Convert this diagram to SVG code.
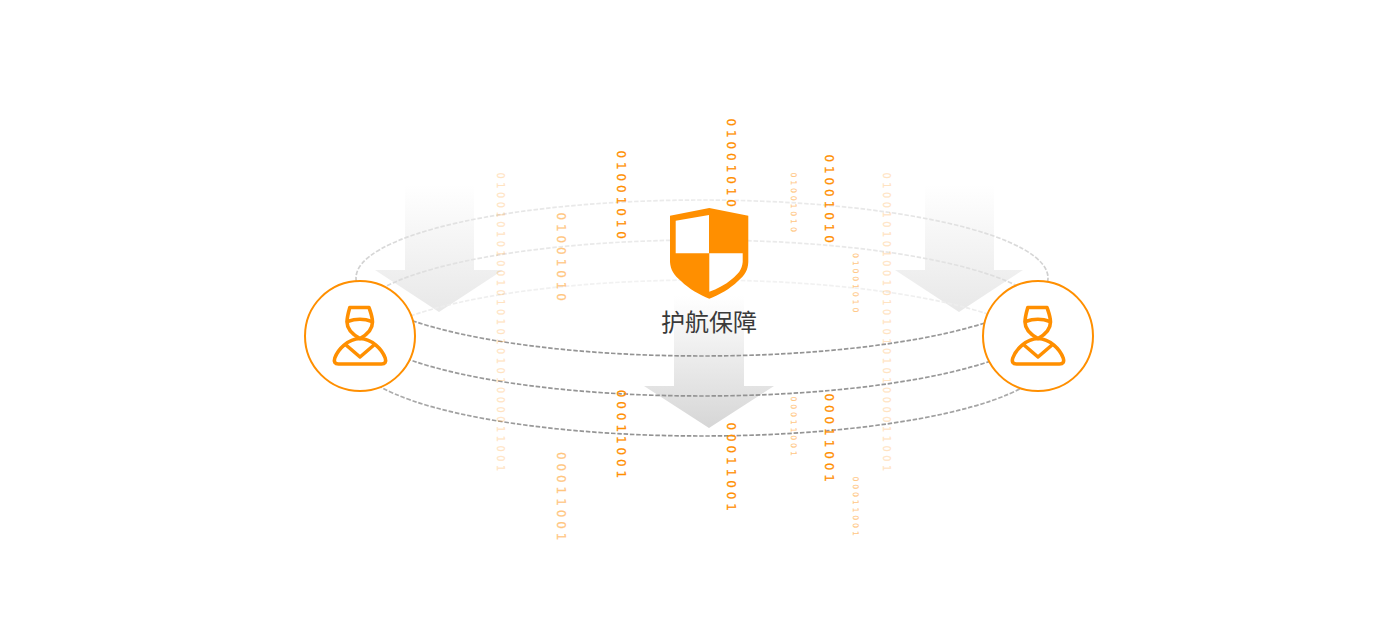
<svg xmlns="http://www.w3.org/2000/svg" xmlns:xlink="http://www.w3.org/1999/xlink" width="1400" height="640" viewBox="0 0 1400 640">
<style>
.d{font-family:"DejaVu Sans",sans-serif;fill:#ff8f00;stroke:#ff8f00;stroke-width:.25;letter-spacing:.36em}
.l{font-size:12px;letter-spacing:.325em}.m{font-size:7.8px;opacity:.5;stroke-width:.15}.w{font-size:12px;letter-spacing:.325em;opacity:.5}.f{font-size:9.7px;letter-spacing:.37em;opacity:.24}
.e{fill:none;stroke-width:1.7;stroke-dasharray:4.5 1.8}
.c{fill:#fff;stroke:#ff8f00;stroke-width:2}
.i{fill:none;stroke:#ff8f00;stroke-width:3.6;stroke-linejoin:round;stroke-linecap:round}
</style>
<defs>
<linearGradient id="g1" x1="0" y1="0" x2="0" y2="1"><stop offset="0" stop-color="#ebebeb"/><stop offset=".5" stop-color="#cdcdcd"/><stop offset=".62" stop-color="#a4a4a4"/><stop offset="1" stop-color="#939393"/></linearGradient>
<linearGradient id="g3" x1="0" y1="0" x2="0" y2="1"><stop offset="0" stop-color="#f2f2f2"/><stop offset=".4" stop-color="#e6e6e6"/><stop offset=".6" stop-color="#b8b8b8"/><stop offset="1" stop-color="#939393"/></linearGradient>
<linearGradient id="a1" gradientUnits="userSpaceOnUse" x1="0" y1="185" x2="0" y2="312"><stop offset="0" stop-color="#fff"/><stop offset="1" stop-color="#e8e8e8"/></linearGradient>
<linearGradient id="a2" gradientUnits="userSpaceOnUse" x1="0" y1="296" x2="0" y2="428"><stop offset="0" stop-color="#fff"/><stop offset="1" stop-color="#d6d6d6"/></linearGradient>
<polygon id="arrow" points="405,180 474,180 474,270 503,270 439,312 375,270 405,270"/>
<g id="person" class="i">
<path d="M349.8 307.5H369C370.5 312 372.5 317 372.5 322C372.5 329 366.5 335 360 338.5C353.5 335 347 329 347 322C347 317 348.5 312 349.8 307.5Z"/>
<path d="M347.5 321.5Q360 317 372 321.5"/>
<path d="M360 338.5C348 339 338 349 334.8 358C333.5 362 335 364 338.5 364H381.5C385 364 386.5 362 385.2 358C382 349 372 339 360 338.5Z"/>
<path d="M346 345L360 357L374 345"/>
</g>
</defs>
<g id="arrows">
<use xlink:href="#arrow" href="#arrow" fill="url(#a1)"/>
<use xlink:href="#arrow" href="#arrow" x="520" fill="url(#a1)"/>
<polygon points="674,296 744,296 744,386 774,386 709,428 644,386 674,386" fill="url(#a2)"/>
</g>
<g id="connectors">
<ellipse class="e" cx="702" cy="278" rx="346" ry="78" stroke="url(#g1)"/>
<ellipse class="e" cx="702" cy="318" rx="346" ry="78" stroke="url(#g1)"/>
<ellipse class="e" cx="702" cy="358" rx="346" ry="78" stroke="url(#g3)"/>
</g>
<g id="digits">
<text class="d f" transform="translate(497 172.5) rotate(90)">0100101010010101010101000011001</text>
<text class="d f" transform="translate(883 172.5) rotate(90)">0100101010010101010101000011001</text>
<text class="d l" transform="translate(726.8 118.5) rotate(90)">01001010</text>
<text class="d l" transform="translate(726.8 422.5) rotate(90)">00011001</text>
<text class="d l" transform="translate(617 150.5) rotate(90)">01001010</text>
<text class="d l" transform="translate(617 389.8) rotate(90)">00011001</text>
<text class="d l" transform="translate(825 154.5) rotate(90)">01001010</text>
<text class="d l" transform="translate(825 393.5) rotate(90)">00011001</text>
<text class="d w" transform="translate(557 212.5) rotate(90)">01001010</text>
<text class="d w" transform="translate(557 452) rotate(90)">00011001</text>
<text class="d m" transform="translate(791 172.5) rotate(90)">01001010</text>
<text class="d m" transform="translate(791 396.5) rotate(90)">00011001</text>
<text class="d m" transform="translate(852.7 253) rotate(90)">01001010</text>
<text class="d m" transform="translate(852.7 476.5) rotate(90)">00011001</text>
</g>
<g id="shield">
<path fill="#ff8f00" d="M709.3 208L748.3 215.7V262C748 270 745 275 738 281C730 289 719 295 709.3 298.7C700 295 689 289 681 281C674 275 670.5 270 670 262V215.7Z"/>
<path fill="#fff" d="M675.7 220.7L709 215V253.3H675.7ZM709.3 253.3H742.7V262C742 270 738 274 732 279C725 285 717 289 709.3 291.7Z"/>
<text x="709" y="331" text-anchor="middle" font-family="'Noto Sans CJK SC',sans-serif" font-size="24" font-weight="400" fill="#3a3a3a">护航保障</text>
</g>
<g id="node-left">
<circle class="c" cx="360" cy="336" r="55"/>
<use xlink:href="#person" href="#person"/>
</g>
<g id="node-right">
<circle class="c" cx="1038" cy="336" r="55"/>
<use xlink:href="#person" href="#person" x="678"/>
</g>
</svg>
